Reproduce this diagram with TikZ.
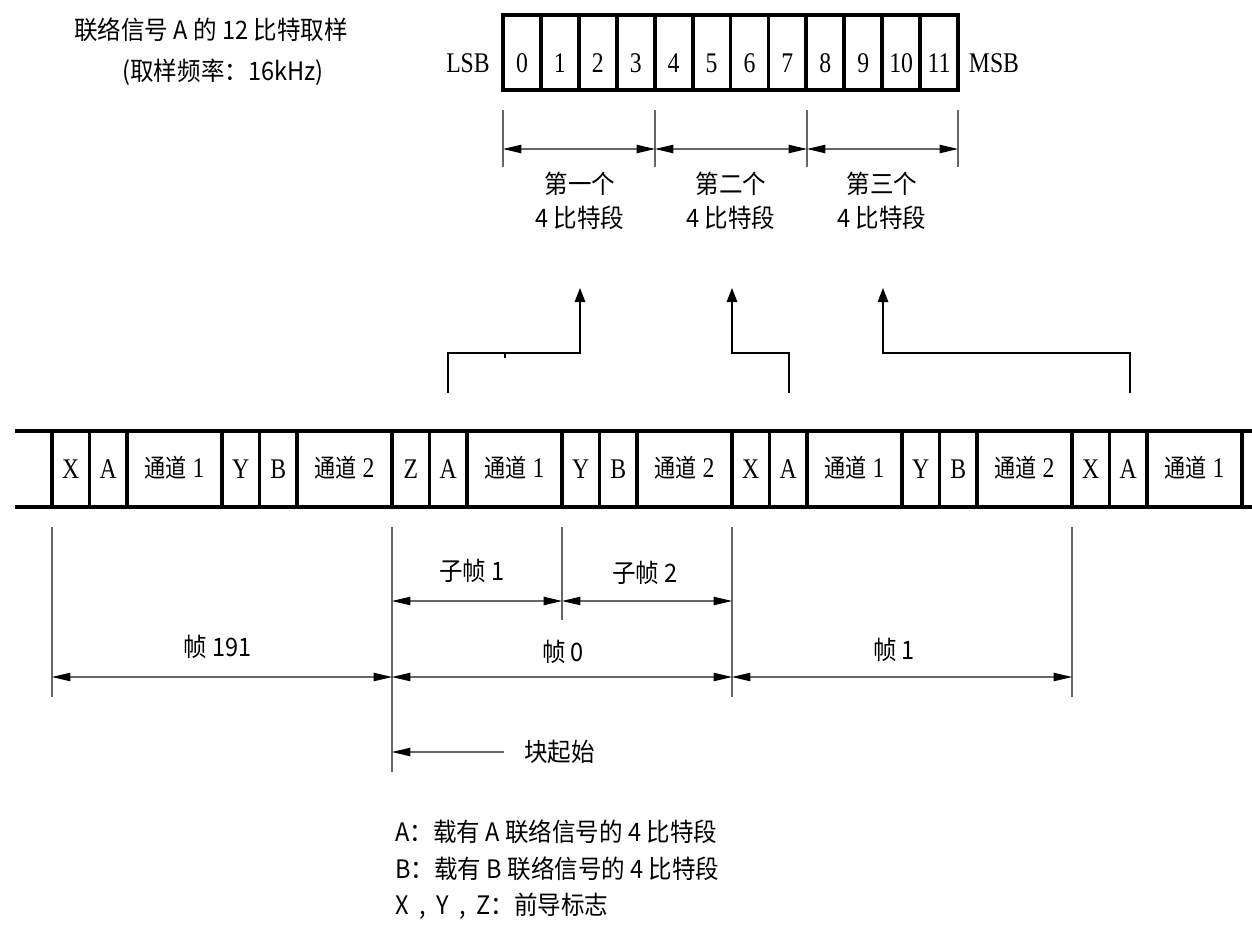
\documentclass[tikz,border=0pt]{standalone}
\usepackage{fontspec}
\setmainfont{Liberation Serif}
\newfontfamily\cjk{Noto Sans CJK SC}
\usetikzlibrary{arrows.meta}

\newcommand{\chan}[1]{{\cjk\fontsize{12}{14}\selectfont 通道} #1}

\tikzset{
	thickbox/.style={line width=2.2pt},
	extline/.style={draw=black!60, line width=0.6pt},
	dimline/.style={extline, {Triangle[length=10.5pt,width=4.8pt,color=black]}-{Triangle[length=10.5pt,width=4.8pt,color=black]}},
	leftarrow/.style={extline, -{Triangle[length=10.5pt,width=4.8pt,color=black]}},
	uparrow/.style={line width=0.6pt, -{Triangle[length=8pt,width=6pt]}},
	serifnum/.style={font=\fontsize{13.5}{15}\selectfont, yscale=1.2, inner sep=0pt},
	cjklabel/.style={font=\cjk\fontsize{13.4}{18}\selectfont, yscale=1.08, inner sep=0pt, align=center}
}

\begin{document}
\begin{tikzpicture}[x=0.02cm,y=-0.02cm]
	\useasboundingbox (0,0) rectangle (1252,927);

	%Title at the top left
	\node[cjklabel] (title) at (211,30) {联络信号 A 的 12 比特取样};
	\node[cjklabel] (rate) at (223,72) {(取样频率：16kHz)};

	%12 bit sample
	\draw[thickbox] (503,15) rectangle (958,90);
	\foreach \i in {1,...,11}
		\draw[thickbox] ({503+\i*37.92},15) -- ({503+\i*37.92},90);
	\foreach \i in {0,...,11}
		\node[serifnum] (bit\i) at ({503+(\i+0.5)*37.92},63) {\i};
	\node[serifnum] (lsb) at (468,63) {LSB};
	\node[serifnum] (msb) at (994,63) {MSB};

	%4 bit segments
	\foreach \x/\n in {503/s0,655/s1,807/s2,958/s3}
		\coordinate (\n) at (\x,149);
	\foreach \n in {s0,s1,s2,s3}
		\draw[extline] ([yshift=0.78cm]\n) -- ([yshift=-0.36cm]\n);
	\draw[dimline] (s0) -- (s1);
	\draw[dimline] (s1) -- (s2);
	\draw[dimline] (s2) -- (s3);
	\node[cjklabel] (seg1) at (580,201) {第一个\\4 比特段};
	\node[cjklabel] (seg2) at (731,201) {第二个\\4 比特段};
	\node[cjklabel] (seg3) at (882,201) {第三个\\4 比特段};

	%Arrows up to the segments
	\draw[uparrow] (448,393) -- (448,353) -- (580,353) -- (580,288);
	\draw[line width=0.6pt] (505,353) -- (505,358);
	\draw[uparrow] (789,393) -- (789,353) -- (732,353) -- (732,288);
	\draw[uparrow] (1130,393) -- (1130,353) -- (883,353) -- (883,288);

	%Frame strip
	\draw[thickbox] (15,431) -- (1252,431);
	\draw[thickbox] (15,507) -- (1252,507);
	\foreach \s/\m/\n in {52/X/fa,392/Z/fb,732/X/fc} {
		\foreach \o in {0,37.5,75,170,207.5,245}
			\draw[thickbox] (\s+\o,431) -- (\s+\o,507);
		\node[serifnum] (\n-pre) at (\s+18.75,469) {\m};
		\node[serifnum] (\n-a) at (\s+56.25,469) {A};
		\node[serifnum] (\n-ch1) at (\s+122.5,468) {\chan{1}};
		\node[serifnum] (\n-y) at (\s+188.75,469) {Y};
		\node[serifnum] (\n-b) at (\s+226.25,469) {B};
		\node[serifnum] (\n-ch2) at (\s+292.5,468) {\chan{2}};
	}
	\foreach \o in {0,37.5,75,170}
		\draw[thickbox] (1072+\o,431) -- (1072+\o,507);
	\node[serifnum] (fd-pre) at (1090.75,469) {X};
	\node[serifnum] (fd-a) at (1128.25,469) {A};
	\node[serifnum] (fd-ch1) at (1194.5,468) {\chan{1}};

	%Extension lines below the strip
	\draw[extline] (52,527) -- (52,697);
	\draw[extline] (392,527) -- (392,772);
	\draw[extline] (562,527) -- (562,620);
	\draw[extline] (732,527) -- (732,697);
	\draw[extline] (1072,527) -- (1072,697);

	%Sub frames
	\coordinate (sf0) at (392,601);
	\coordinate (sf1) at (562,601);
	\coordinate (sf2) at (732,601);
	\draw[dimline] (sf0) -- (sf1);
	\draw[dimline] (sf1) -- (sf2);
	\node[cjklabel] (sub1) at (472,571) {子帧 1};
	\node[cjklabel] (sub2) at (645,573) {子帧 2};

	%Frames
	\coordinate (fr0) at (52,677);
	\coordinate (fr1) at (392,677);
	\coordinate (fr2) at (732,677);
	\coordinate (fr3) at (1072,677);
	\draw[dimline] (fr0) -- (fr1);
	\draw[dimline] (fr1) -- (fr2);
	\draw[dimline] (fr2) -- (fr3);
	\node[cjklabel] (frm191) at (218,647) {帧 191};
	\node[cjklabel] (frm0) at (563,652) {帧 0};
	\node[cjklabel] (frm1) at (894,650) {帧 1};

	%Block start
	\coordinate (blk) at (392,752);
	\coordinate (blktail) at (504,752);
	\draw[leftarrow] (blktail) -- (blk);
	\node[cjklabel, anchor=west] (blktext) at (524,752) {块起始};

	%Legend
	\node[cjklabel, anchor=west] (keya) at (395,832) {A：载有 A 联络信号的 4 比特段};
	\node[cjklabel, anchor=west] (keyb) at (395,869) {B：载有 B 联络信号的 4 比特段};
	\node[cjklabel, anchor=west] (keyx) at (395,906) {X\ \ ,\ \ Y\ \ ,\ \ Z：前导标志};
\end{tikzpicture}
\end{document}
